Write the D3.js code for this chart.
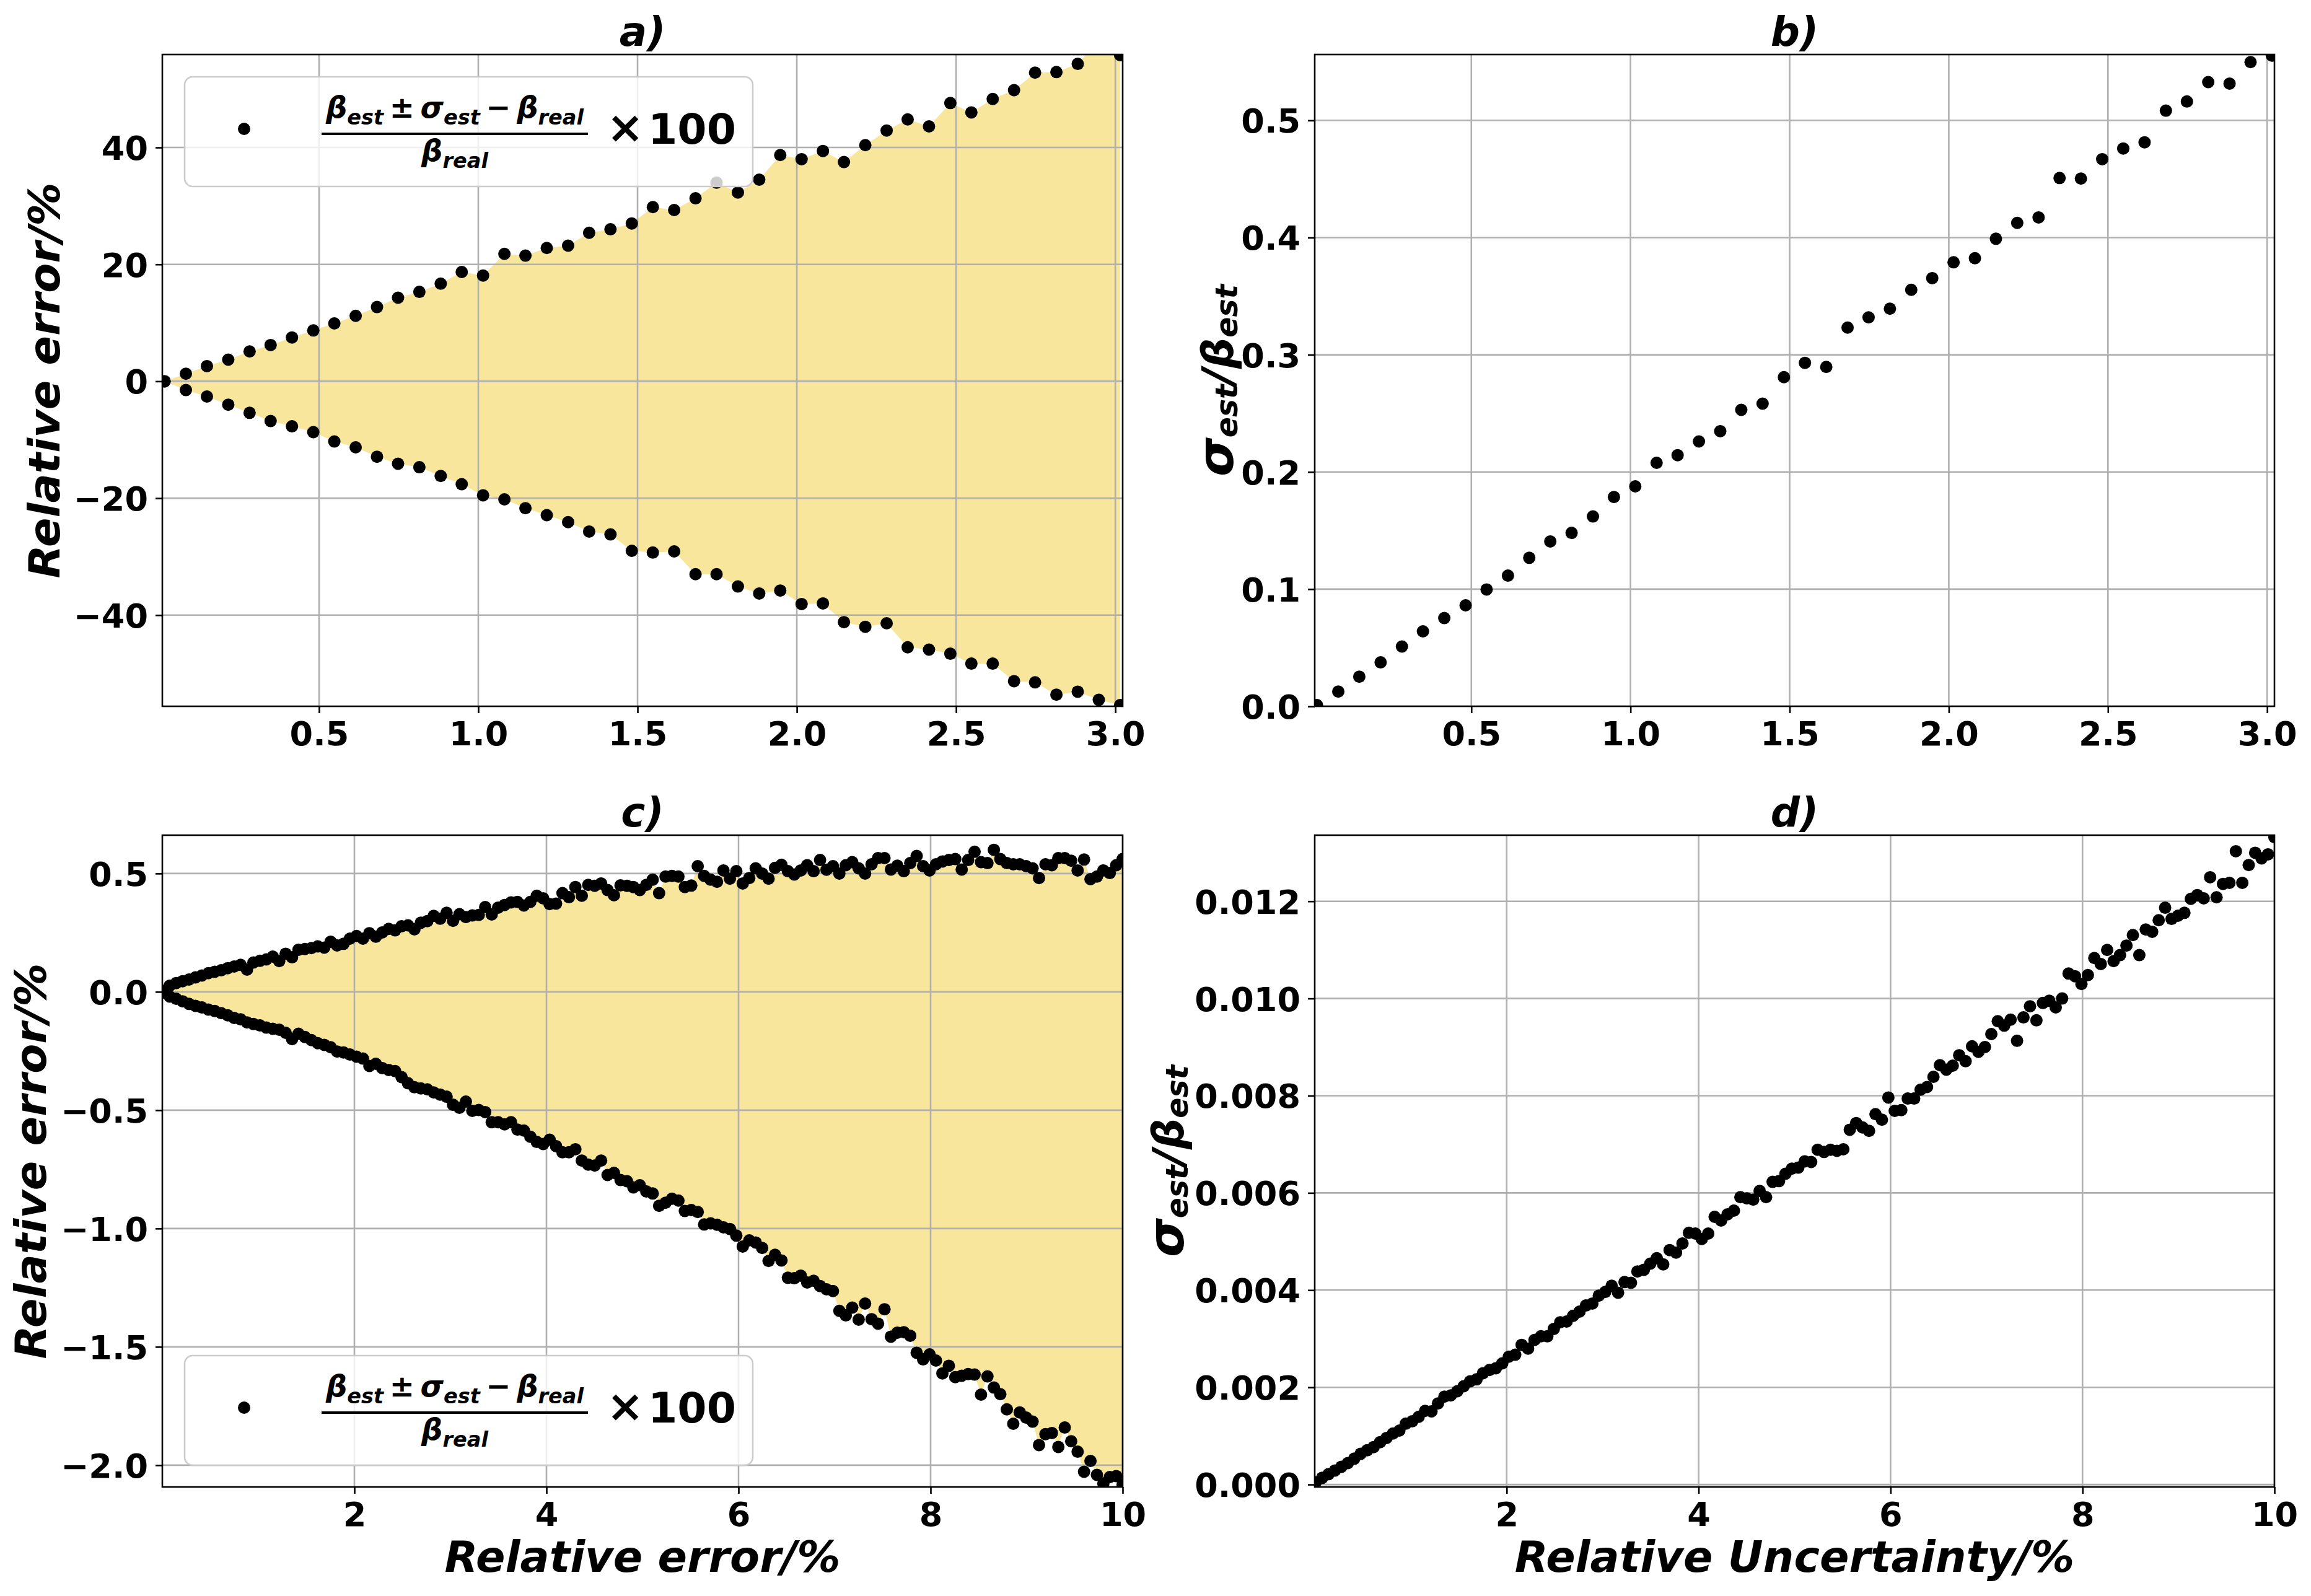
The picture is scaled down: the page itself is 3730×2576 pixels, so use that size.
<!DOCTYPE html>
<html>
<head>
<meta charset="utf-8">
<script src="https://cdn.jsdelivr.net/npm/d3@7"></script>
<style>
body { margin: 0; background: #fff; }
text { font-family: 'DejaVu Sans'; font-weight: bold; }
</style>
</head>
<body>
<svg id="chart" width="3730" height="2576"></svg>
<script>
// ---- panels a) and b): 46 samples ----
const xA = [0.015, 0.082, 0.148, 0.215, 0.282, 0.348, 0.415, 0.482, 0.548, 0.615,
	0.682, 0.748, 0.815, 0.882, 0.948, 1.015, 1.082, 1.148, 1.215, 1.282,
	1.348, 1.415, 1.482, 1.548, 1.615, 1.682, 1.748, 1.815, 1.882, 1.948,
	2.015, 2.082, 2.148, 2.215, 2.282, 2.348, 2.415, 2.482, 2.548, 2.615,
	2.682, 2.748, 2.815, 2.882, 2.948, 3.015];
const upperA = [0, 1.3, 2.6, 3.7, 5.1, 6.2, 7.5, 8.7, 9.9, 11.2,
	12.7, 14.3, 15.3, 16.7, 18.7, 18.1, 21.8, 21.5, 22.8, 23.2,
	25.4, 26.0, 27.0, 29.8, 29.3, 31.3, 34.0, 32.3, 34.5, 38.7,
	38.0, 39.4, 37.5, 40.4, 42.9, 44.8, 43.6, 47.6, 46.0, 48.3,
	49.8, 52.8, 52.9, 54.3, 58.3, 55.8];
const lowerA = [0, -1.5, -2.6, -4.0, -5.4, -6.8, -7.7, -8.7, -10.3, -11.3,
	-12.9, -14.1, -14.7, -16.2, -17.6, -19.5, -20.2, -21.7, -22.9, -24.1,
	-25.7, -26.2, -29.0, -29.3, -29.1, -33.0, -33.0, -35.1, -36.3, -35.8,
	-38.1, -38.0, -41.2, -42.0, -41.4, -45.5, -45.9, -46.6, -48.3, -48.3,
	-51.3, -51.5, -53.6, -53.1, -54.5, -55.4];
const ratioB = [0.001, 0.0126, 0.0253, 0.0375, 0.051, 0.064, 0.0753, 0.0862, 0.0997, 0.1115,
	0.1267, 0.1407, 0.148, 0.162, 0.1786, 0.1877, 0.2078, 0.2143, 0.226, 0.2348,
	0.253, 0.2583, 0.2809, 0.2931, 0.2896, 0.3232, 0.3319, 0.3393, 0.3554, 0.3654,
	0.3789, 0.3824, 0.399, 0.4125, 0.4172, 0.4508, 0.4503, 0.4669, 0.476, 0.4813,
	0.5083, 0.5161, 0.5327, 0.5314, 0.5497, 0.5553];

// ---- panels c) and d): 150 samples ----
const xC = [0.01, 0.077, 0.144, 0.211, 0.278, 0.345, 0.412, 0.479, 0.546, 0.613,
	0.681, 0.748, 0.815, 0.882, 0.949, 1.016, 1.083, 1.150, 1.217, 1.284,
	1.351, 1.418, 1.485, 1.552, 1.619, 1.686, 1.753, 1.820, 1.887, 1.954,
	2.022, 2.089, 2.156, 2.223, 2.290, 2.357, 2.424, 2.491, 2.558, 2.625,
	2.692, 2.759, 2.826, 2.893, 2.960, 3.027, 3.094, 3.161, 3.228, 3.295,
	3.362, 3.430, 3.497, 3.564, 3.631, 3.698, 3.765, 3.832, 3.899, 3.966,
	4.033, 4.100, 4.167, 4.234, 4.301, 4.368, 4.435, 4.502, 4.569, 4.636,
	4.703, 4.771, 4.838, 4.905, 4.972, 5.039, 5.106, 5.173, 5.240, 5.307,
	5.374, 5.441, 5.508, 5.575, 5.642, 5.709, 5.776, 5.843, 5.910, 5.977,
	6.044, 6.112, 6.179, 6.246, 6.313, 6.380, 6.447, 6.514, 6.581, 6.648,
	6.715, 6.782, 6.849, 6.916, 6.983, 7.050, 7.117, 7.184, 7.251, 7.318,
	7.385, 7.453, 7.520, 7.587, 7.654, 7.721, 7.788, 7.855, 7.922, 7.989,
	8.056, 8.123, 8.190, 8.257, 8.324, 8.391, 8.458, 8.525, 8.592, 8.659,
	8.726, 8.794, 8.861, 8.928, 8.995, 9.062, 9.129, 9.196, 9.263, 9.330,
	9.397, 9.464, 9.531, 9.598, 9.665, 9.732, 9.799, 9.866, 9.933, 10.000];
const upperC = [0.004, 0.026, 0.037, 0.045, 0.052, 0.061, 0.069, 0.079, 0.085, 0.091,
	0.100, 0.107, 0.114, 0.094, 0.124, 0.131, 0.137, 0.149, 0.130, 0.161,
	0.146, 0.178, 0.181, 0.185, 0.192, 0.187, 0.212, 0.196, 0.203, 0.225,
	0.236, 0.225, 0.248, 0.233, 0.251, 0.266, 0.260, 0.277, 0.281, 0.264,
	0.292, 0.299, 0.321, 0.309, 0.334, 0.300, 0.328, 0.316, 0.323, 0.325,
	0.358, 0.327, 0.356, 0.367, 0.378, 0.380, 0.365, 0.380, 0.406, 0.395,
	0.371, 0.373, 0.417, 0.400, 0.443, 0.406, 0.452, 0.448, 0.458, 0.430,
	0.408, 0.450, 0.448, 0.443, 0.430, 0.452, 0.474, 0.417, 0.487, 0.490,
	0.487, 0.443, 0.449, 0.531, 0.490, 0.474, 0.465, 0.513, 0.478, 0.510,
	0.458, 0.481, 0.522, 0.500, 0.478, 0.524, 0.537, 0.510, 0.496, 0.513,
	0.535, 0.510, 0.557, 0.516, 0.531, 0.500, 0.535, 0.548, 0.522, 0.500,
	0.539, 0.565, 0.565, 0.517, 0.533, 0.510, 0.544, 0.574, 0.531, 0.513,
	0.539, 0.551, 0.557, 0.561, 0.517, 0.557, 0.592, 0.548, 0.544, 0.600,
	0.561, 0.544, 0.539, 0.539, 0.531, 0.522, 0.481, 0.539, 0.535, 0.565,
	0.565, 0.554, 0.513, 0.559, 0.476, 0.487, 0.513, 0.502, 0.535, 0.561];
const lowerC = [-0.003, -0.020, -0.029, -0.040, -0.051, -0.059, -0.066, -0.075, -0.081, -0.090,
	-0.099, -0.110, -0.116, -0.129, -0.136, -0.142, -0.151, -0.156, -0.160, -0.173,
	-0.200, -0.177, -0.191, -0.204, -0.217, -0.224, -0.234, -0.252, -0.256, -0.265,
	-0.274, -0.282, -0.313, -0.304, -0.322, -0.330, -0.335, -0.360, -0.386, -0.403,
	-0.408, -0.412, -0.425, -0.434, -0.443, -0.477, -0.490, -0.464, -0.503, -0.499,
	-0.508, -0.551, -0.551, -0.560, -0.551, -0.582, -0.586, -0.612, -0.634, -0.643,
	-0.625, -0.652, -0.678, -0.678, -0.665, -0.713, -0.730, -0.734, -0.713, -0.774,
	-0.765, -0.795, -0.800, -0.826, -0.817, -0.843, -0.852, -0.904, -0.891, -0.874,
	-0.882, -0.926, -0.922, -0.930, -0.983, -0.978, -0.984, -0.995, -1.002, -1.030,
	-1.076, -1.050, -1.059, -1.082, -1.137, -1.111, -1.135, -1.208, -1.210, -1.199,
	-1.228, -1.221, -1.243, -1.257, -1.264, -1.348, -1.367, -1.334, -1.385, -1.317,
	-1.383, -1.402, -1.341, -1.457, -1.440, -1.438, -1.453, -1.525, -1.553, -1.532,
	-1.558, -1.612, -1.580, -1.628, -1.622, -1.615, -1.617, -1.702, -1.625, -1.672,
	-1.700, -1.764, -1.825, -1.777, -1.799, -1.816, -1.915, -1.869, -1.864, -1.923,
	-1.841, -1.899, -1.943, -2.028, -1.982, -2.041, -2.077, -2.050, -2.046, -2.083];
const ratioD = [0.000046, 0.000137, 0.000213, 0.000289, 0.000365, 0.000441, 0.000532, 0.000633, 0.000704, 0.00077,
	0.000872, 0.000958, 0.001049, 0.00111, 0.001252, 0.001302, 0.001393, 0.001515, 0.001505, 0.001667,
	0.001809, 0.001834, 0.00192, 0.002022, 0.002123, 0.002164, 0.00229, 0.002356, 0.002392, 0.002493,
	0.00263, 0.00267, 0.002873, 0.002797, 0.002974, 0.00305, 0.00305, 0.003202, 0.003339, 0.003354,
	0.003471, 0.003557, 0.003684, 0.003724, 0.003886, 0.003962, 0.004089, 0.003947, 0.004165, 0.00415,
	0.004383, 0.004419, 0.004545, 0.004657, 0.00453, 0.004824, 0.004773, 0.004961, 0.005179, 0.005163,
	0.005052, 0.005163, 0.005508, 0.005432, 0.005559, 0.005635, 0.005913, 0.005888, 0.005863, 0.006041,
	0.005913, 0.006227, 0.006243, 0.006394, 0.006499, 0.006522, 0.00665, 0.006636, 0.006888, 0.006842,
	0.006888, 0.006865, 0.006897, 0.0073, 0.007437, 0.007346, 0.007277, 0.00762, 0.007506, 0.007963,
	0.007689, 0.007703, 0.007941, 0.007941, 0.008124, 0.008178, 0.008389, 0.008627, 0.008535, 0.008618,
	0.008833, 0.008709, 0.009016, 0.008902, 0.009002, 0.009268, 0.009533, 0.009442, 0.009565, 0.00913,
	0.009611, 0.00984, 0.009551, 0.009908, 0.009954, 0.009817, 0.01, 0.010513, 0.010458, 0.010297,
	0.010481, 0.010833, 0.01071, 0.010998, 0.010769, 0.010892, 0.011089, 0.011304, 0.010892, 0.011419,
	0.011373, 0.011611, 0.011867, 0.011638, 0.011703, 0.011762, 0.01205, 0.012128, 0.01206, 0.012494,
	0.012082, 0.012357, 0.01238, 0.01303, 0.01238, 0.012746, 0.012998, 0.012883, 0.012966, 0.013318];

// ---- ticks ----
const ticksXA = [0.5, 1.0, 1.5, 2.0, 2.5, 3.0];
const ticksYA = [-40, -20, 0, 20, 40];
const ticksYB = [0.0, 0.1, 0.2, 0.3, 0.4, 0.5];
const ticksXC = [2, 4, 6, 8, 10];
const ticksYC = [-2.0, -1.5, -1.0, -0.5, 0.0, 0.5];
const ticksYD = [0.000, 0.002, 0.004, 0.006, 0.008, 0.010, 0.012];

const fillColor = '#f8e69d';
const gridColor = '#b0b0b0';
const lw = 2.6;
const tickFont = 54, labelFont = 70, titleFont = 66;

const svg = d3.select('#chart');
svg.append('rect').attr('width', 3730).attr('height', 2576).attr('fill', '#fff');

// rich text with subscripts (mathtext-like)
function rich(text, parts, size, subShift = 0.22) {
	let shift = 0;
	parts.forEach(p => {
		let target = p.sub ? size * subShift : 0;
		text.append('tspan')
			.attr('dy', target - shift)
			.attr('font-size', p.sub ? size * 0.7 : size * (p.scale || 1))
			.attr('font-style', p.it ? 'italic' : 'normal')
			.text(p.t);
		shift = target;
	});
}

const sigmaLabel = [
	{t: 'σ', it: true, scale: 1.15}, {t: 'est', it: true, sub: true},
	{t: '/', it: true}, {t: 'β', it: true}, {t: 'est', it: true, sub: true}
];

function drawLegend(x0, y0) {
	let g = svg.append('g').attr('transform', `translate(${x0},${y0})`);
	g.append('rect')
		.attr('width', 917).attr('height', 177).attr('rx', 13)
		.attr('fill', 'white').attr('fill-opacity', 0.8)
		.attr('stroke', '#cccccc').attr('stroke-width', lw);
	g.append('circle').attr('cx', 96).attr('cy', 84).attr('r', 10).attr('fill', 'black');
	let num = g.append('text').attr('x', 436).attr('y', 66).attr('text-anchor', 'middle');
	rich(num, [
		{t: 'β', it: true}, {t: 'est', it: true, sub: true},
		{t: '\u2009±\u2009'}, {t: 'σ', it: true}, {t: 'est', it: true, sub: true},
		{t: '\u2009−\u2009'}, {t: 'β', it: true}, {t: 'real', it: true, sub: true}
	], 48);
	g.append('rect').attr('x', 221).attr('y', 90).attr('width', 430).attr('height', 4).attr('fill', 'black');
	let den = g.append('text').attr('x', 436).attr('y', 136).attr('text-anchor', 'middle');
	rich(den, [{t: 'β', it: true}, {t: 'real', it: true, sub: true}], 48);
	g.append('text').attr('x', 681).attr('y', 106).attr('font-size', 72).text('×');
	g.append('text').attr('x', 748).attr('y', 108).attr('font-size', 68).text('100');
}

function panel(o) {
	let x = d3.scaleLinear().domain(o.xd).range([o.left, o.right]);
	let y = d3.scaleLinear().domain(o.yd).range([o.bottom, o.top]);
	let g = svg.append('g');
	let clipId = 'clip-' + o.id;
	svg.append('clipPath').attr('id', clipId)
		.append('rect')
		.attr('x', o.left).attr('y', o.top)
		.attr('width', o.right - o.left).attr('height', o.bottom - o.top);

	let inner = g.append('g').attr('clip-path', `url(#${clipId})`);

	if (o.lower) {
		let area = d3.area()
			.x((d, i) => x(o.xs[i]))
			.y0((d, i) => y(o.lower[i]))
			.y1((d, i) => y(o.upper[i]));
		inner.append('path').datum(o.xs).attr('d', area).attr('fill', fillColor);
	}

	// grid
	inner.selectAll('.gx').data(o.xt).join('line')
		.attr('x1', d => x(d)).attr('x2', d => x(d))
		.attr('y1', o.top).attr('y2', o.bottom)
		.attr('stroke', gridColor).attr('stroke-width', lw);
	inner.selectAll('.gy').data(o.yt).join('line')
		.attr('y1', d => y(d)).attr('y2', d => y(d))
		.attr('x1', o.left).attr('x2', o.right)
		.attr('stroke', gridColor).attr('stroke-width', lw);

	// points
	o.series.forEach(s => {
		inner.append('g').selectAll('circle')
			.data(s)
			.join('circle')
			.attr('cx', (d, i) => x(o.xs[i]))
			.attr('cy', d => y(d))
			.attr('r', 10)
			.attr('fill', 'black');
	});

	// axes
	let ax = g.append('g').attr('transform', `translate(0,${o.bottom})`)
		.call(d3.axisBottom(x).tickValues(o.xt).tickSize(11).tickPadding(14).tickFormat(d3.format(o.xf)));
	let ay = g.append('g').attr('transform', `translate(${o.left},0)`)
		.call(d3.axisLeft(y).tickValues(o.yt).tickSize(11).tickPadding(12).tickFormat(d3.format(o.yf)));
	[ax, ay].forEach(a => {
		a.select('.domain').remove();
		a.selectAll('line').attr('stroke', 'black').attr('stroke-width', lw);
		a.selectAll('text')
			.attr('font-family', 'DejaVu Sans')
			.attr('font-weight', 'bold')
			.attr('font-size', tickFont)
			.attr('fill', 'black');
	});
	ay.selectAll('text').attr('dy', '0.36em');

	// spines
	g.append('rect')
		.attr('x', o.left).attr('y', o.top)
		.attr('width', o.right - o.left).attr('height', o.bottom - o.top)
		.attr('fill', 'none').attr('stroke', 'black').attr('stroke-width', lw);

	// title
	g.append('text')
		.attr('x', (o.left + o.right) / 2).attr('y', o.top - 14)
		.attr('text-anchor', 'middle').attr('font-style', 'italic')
		.attr('font-size', titleFont).text(o.title);

	// y label
	let cy = (o.top + o.bottom) / 2;
	let yl = g.append('text')
		.attr('transform', `translate(${o.ylx},${cy}) rotate(-90)`)
		.attr('text-anchor', 'middle').attr('font-style', 'italic');
	if (o.ylabel === 'sigma') {
		rich(yl, sigmaLabel, labelFont, 0.1);
	} else {
		yl.attr('font-size', labelFont).text(o.ylabel);
	}

	if (o.xlabel) {
		g.append('text')
			.attr('x', (o.left + o.right) / 2).attr('y', 2537)
			.attr('text-anchor', 'middle').attr('font-style', 'italic')
			.attr('font-size', labelFont).text(o.xlabel);
	}
}

const L1 = 262, R1 = 1812, L2 = 2122, R2 = 3671;
const T1 = 88, B1 = 1140, T2 = 1348, B2 = 2400;

panel({id: 'a', left: L1, right: R1, top: T1, bottom: B1,
	xd: [0.008, 3.023], yd: [-55.6, 55.9], xt: ticksXA, yt: ticksYA, xf: '.1f', yf: 'd',
	xs: xA, lower: lowerA, upper: upperA, series: [upperA, lowerA],
	title: 'a)', ylabel: 'Relative error/%', ylx: 96});
drawLegend(298, 124);

panel({id: 'b', left: L2, right: R2, top: T1, bottom: B1,
	xd: [0.008, 3.023], yd: [0, 0.5562], xt: ticksXA, yt: ticksYB, xf: '.1f', yf: '.1f',
	xs: xA, series: [ratioB],
	title: 'b)', ylabel: 'sigma', ylx: 1990});

panel({id: 'c', left: L1, right: R1, top: T2, bottom: B2,
	xd: [0, 10], yd: [-2.092, 0.662], xt: ticksXC, yt: ticksYC, xf: 'd', yf: '.1f',
	xs: xC, lower: lowerC, upper: upperC, series: [upperC, lowerC],
	title: 'c)', ylabel: 'Relative error/%', ylx: 74, xlabel: 'Relative error/%'});
drawLegend(298, 2188);

panel({id: 'd', left: L2, right: R2, top: T2, bottom: B2,
	xd: [0, 10], yd: [-0.00005, 0.01336], xt: ticksXC, yt: ticksYD, xf: 'd', yf: '.3f',
	xs: xC, series: [ratioD],
	title: 'd)', ylabel: 'sigma', ylx: 1910, xlabel: 'Relative Uncertainty/%'});
</script>
</body>
</html>
